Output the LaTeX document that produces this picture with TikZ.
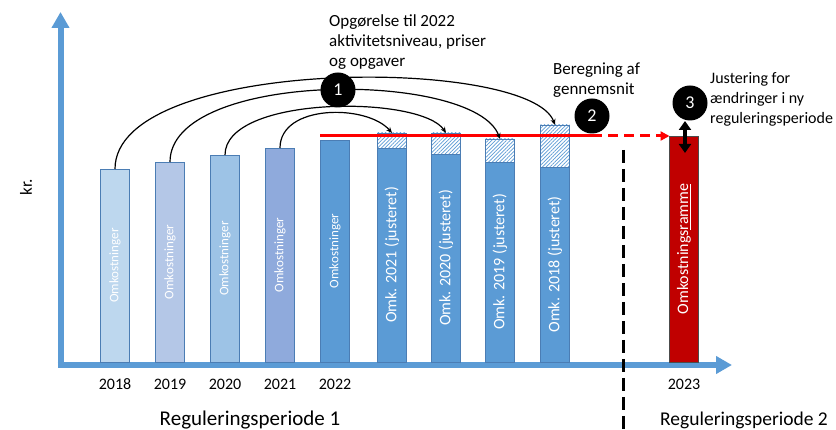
\documentclass[tikz,border=0pt]{standalone}
\usepackage{fontspec}
\setmainfont{Carlito}
\usepackage{tikz}
\usetikzlibrary{arrows.meta, patterns.meta}
\definecolor{axisblue}{RGB}{91,155,213}
\definecolor{bar18}{RGB}{189,215,238}
\definecolor{bar19}{RGB}{180,199,231}
\definecolor{bar20}{RGB}{157,195,230}
\definecolor{bar21}{RGB}{143,170,220}
\definecolor{bar22}{RGB}{91,155,213}
\definecolor{barline}{RGB}{75,125,180}
\definecolor{framered}{RGB}{192,0,0}
\definecolor{avgred}{RGB}{255,0,0}

\begin{document}
\begin{tikzpicture}[x=1pt, y=-1pt,
  bar/.style={draw=barline, line width=0.8pt, minimum width=29pt,
              inner sep=0pt, outer sep=0pt, anchor=south},
  hatch/.style={bar, preaction={fill=white},
                pattern={Lines[angle=45, distance=2.6pt, line width=0.7pt]},
                pattern color=bar22},
  barlabel/.style={rotate=90, text=white, font=\fontsize{13}{13}\selectfont},
  adjlabel/.style={rotate=90, text=white, font=\fontsize{16}{16}\selectfont},
  badge/.style={circle, fill=black, text=white, minimum size=35pt,
                inner sep=0pt, font=\fontsize{18}{18}\selectfont},
  note/.style={align=left, anchor=north west, inner sep=0pt,
               font=\fontsize{16}{20}\selectfont},
  bignote/.style={note, font=\fontsize{17}{20}\selectfont},
  year/.style={anchor=base, inner sep=0pt, font=\fontsize{16}{16}\selectfont},
  period/.style={anchor=base, inner sep=0pt, font=\fontsize{21}{21}\selectfont},
  arc/.style={-{Stealth[length=6pt, width=5pt]}, line width=1.2pt},
  axis/.style={-{Triangle[length=16pt, width=17pt]}, line width=6pt, draw=axisblue},
  avgline/.style={line width=3pt, draw=avgred},
  periodline/.style={line width=3pt, dash pattern=on 13pt off 6pt},
  dblarrow/.style={{Triangle[length=9pt, width=12pt]}-{Triangle[length=9pt, width=12pt]}, line width=3.5pt}
]
\useasboundingbox (0,0) rectangle (836,430);

% axes
\coordinate (origin) at (60.5,365);
\coordinate (ytop)   at (60.5,12);
\coordinate (xend)   at (732,365);
\draw[axis] (origin) -- (ytop);
\draw[axis] (57.5,365) -- (xend);

% bars, regulation period 1
\node[bar, fill=bar18, minimum height=193pt] (b2018) at (115,362) {};
\node[bar, fill=bar19, minimum height=200pt] (b2019) at (170,362) {};
\node[bar, fill=bar20, minimum height=207pt] (b2020) at (225,362) {};
\node[bar, fill=bar21, minimum height=214pt] (b2021) at (280,362) {};
\node[bar, fill=bar22, minimum height=222pt] (b2022) at (335,362) {};

% adjusted bars
\node[bar, fill=bar22, minimum height=214pt] (a2021) at (392,362) {};
\node[bar, fill=bar22, minimum height=208pt] (a2020) at (446,362) {};
\node[bar, fill=bar22, minimum height=200pt] (a2019) at (500,362) {};
\node[bar, fill=bar22, minimum height=195pt] (a2018) at (555,362) {};
\node[hatch, minimum height=15pt] (h2021) at (a2021.north) {};
\node[hatch, minimum height=21pt] (h2020) at (a2020.north) {};
\node[hatch, minimum height=23pt] (h2019) at (a2019.north) {};
\node[hatch, minimum height=42pt] (h2018) at (a2018.north) {};

% cost frame 2023
\node[bar, fill=framered, draw=black!70, minimum height=226pt] (r2023) at (684,362) {};

% labels in bars
\node[barlabel] (l2018) at (b2018.center) {Omkostninger};
\node[barlabel] (l2019) at (b2019.center) {Omkostninger};
\node[barlabel] (l2020) at (b2020.center) {Omkostninger};
\node[barlabel] (l2021) at (b2021.center) {Omkostninger};
\node[barlabel] (l2022) at (b2022.center) {Omkostninger};
\node[adjlabel] (m2021) at (a2021.center) {Omk. 2021 (justeret)};
\node[adjlabel] (m2020) at (a2020.center) {Omk. 2020 (justeret)};
\node[adjlabel] (m2019) at (a2019.center) {Omk. 2019 (justeret)};
\node[adjlabel] (m2018) at (a2018.center) {Omk. 2018 (justeret)};
\node[adjlabel] (m2023) at (r2023.center) {Omkostnings\underline{ramme}};

% average line
\coordinate (avgstart) at (320,136);
\coordinate (avgmid)   at (592,136);
\draw[avgline] (avgstart) -- (avgmid);
\draw[avgline, dash pattern=on 10pt off 6pt, -{Triangle[length=9pt, width=9pt]}] (avgmid) -- (r2023.north west);

% arcs
\draw[arc] (b2018.north) .. controls +(0,-113) and +(-25,-69) .. (h2018.north);
\draw[arc] (b2019.north) .. controls +(0,-92) and +(-25,-69) .. (h2019.north);
\draw[arc] (b2020.north) .. controls +(0,-60) and +(-25,-38) .. (h2020.north);
\draw[arc] (b2021.north) .. controls +(0,-44) and +(-25,-29) .. (h2021.north);

% period border and adjustment
\coordinate (splittop) at (623,150);
\coordinate (splitbot) at (623,432);
\draw[periodline] (splittop) -- (splitbot);
\coordinate (adjtop) at (685,121);
\coordinate (adjbot) at (685,153);
\draw[dblarrow] (adjtop) -- (adjbot);

% badges
\node[badge] (c1) at (338,90)  {1};
\node[badge] (c2) at (592,116) {2};
\node[badge] (c3) at (690,103) {3};

% notes
\node[bignote] (opg)     at (329,14) {Opgørelse til 2022\\aktivitetsniveau, priser\\og opgaver};
\node[bignote] (avgnote) at (553,63) {Beregning af\\gennemsnit};
\node[note]    (adjnote) at (710,72) {Justering for\\ændringer i ny\\reguleringsperiode};
\node[rotate=90, font=\fontsize{17}{17}\selectfont] (kr) at (26,187) {kr.};

% years and periods
\node[year] (y2018) at (115,390) {2018};
\node[year] (y2019) at (170,390) {2019};
\node[year] (y2020) at (225,390) {2020};
\node[year] (y2021) at (280,390) {2021};
\node[year] (y2022) at (335,390) {2022};
\node[year] (y2023) at (684,390) {2023};
\node[period] (p1) at (250,425) {Reguleringsperiode 1};
\node[period, anchor=base west, font=\fontsize{19.5}{20}\selectfont] (p2) at (660,425) {Reguleringsperiode 2};

\end{tikzpicture}
\end{document}
